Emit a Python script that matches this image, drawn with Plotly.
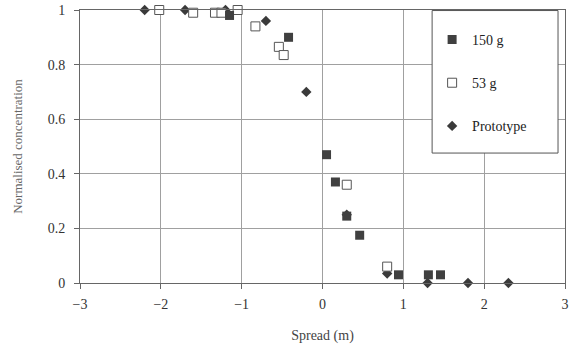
import plotly.graph_objects as go

# Data
g150_x = [-1.15, -0.42, 0.05, 0.16, 0.30, 0.46, 0.94, 1.31, 1.46]
g150_y = [0.98, 0.90, 0.47, 0.37, 0.245, 0.175, 0.03, 0.03, 0.03]

g53_x = [-2.02, -1.60, -1.33, -1.25, -1.05, -0.83, -0.54, -0.48, 0.30, 0.80]
g53_y = [1.00, 0.99, 0.99, 0.99, 1.00, 0.94, 0.865, 0.835, 0.36, 0.06]

proto_x = [-2.2, -1.7, -1.2, -0.7, -0.2, 0.3, 0.8, 1.3, 1.8, 2.3]
proto_y = [1.00, 1.00, 1.00, 0.96, 0.70, 0.25, 0.035, 0.0, 0.0, 0.0]

x_ticks = [-3, -2, -1, 0, 1, 2, 3]
y_ticks = [0, 0.2, 0.4, 0.6, 0.8, 1]
y_tick_text = ["0", "0.2", "0.4", "0.6", "0.8", "1"]

FONT = "Times New Roman, Liberation Serif, serif"
dark = "#3a3a3a"

fig = go.Figure()
fig.add_trace(go.Scatter(
    x=proto_x, y=proto_y, mode="markers", name="Prototype", legendgroup="c", legendrank=3,
    marker=dict(symbol="diamond", size=8, color=dark, line=dict(width=0)),
    cliponaxis=False))
fig.add_trace(go.Scatter(
    x=g53_x, y=g53_y, mode="markers", name="53 g", legendgroup="b", legendrank=2,
    marker=dict(symbol="square", size=9, color="white", line=dict(width=1, color="#555")),
    cliponaxis=False))
fig.add_trace(go.Scatter(
    x=g150_x, y=g150_y, mode="markers", name="150 g", legendgroup="a", legendrank=1,
    marker=dict(symbol="square", size=9, color="#404040", line=dict(width=0)),
    cliponaxis=False))

# legend frame
fig.add_shape(type="rect", xref="paper", yref="paper",
              x0=0.726, x1=0.9856, y0=0.476, y1=0.998,
              line=dict(color="#555", width=1), fillcolor="white", layer="above")

fig.update_layout(
    width=578, height=353,
    margin=dict(l=80, r=13, t=10, b=70, autoexpand=False),
    paper_bgcolor="white", plot_bgcolor="white",
    font=dict(family=FONT, size=14, color="#333"),
    showlegend=True,
    legend=dict(
        x=0.726, y=0.949, xanchor="left", yanchor="top",
        bgcolor="rgba(0,0,0,0)", borderwidth=0,
        font=dict(family=FONT, size=14, color="#222"),
        tracegroupgap=22, traceorder="grouped",
    ),
)
fig.update_xaxes(
    range=[-3, 3], tickvals=x_ticks, showgrid=True, gridcolor="#a0a0a0", gridwidth=1,
    zeroline=False, showline=True, linecolor="#666", linewidth=1, mirror=True,
    ticks="outside", ticklen=5, tickcolor="#666", automargin=False, ticklabelstandoff=3,
    tickfont=dict(family=FONT, size=14, color="#333"),
    title=dict(text="Spread (m)", font=dict(family=FONT, size=14, color="#444"), standoff=19),
)
fig.update_yaxes(
    range=[0, 1], tickvals=y_ticks, ticktext=y_tick_text, showgrid=True, gridcolor="#a0a0a0",
    gridwidth=1, zeroline=False, showline=True, linecolor="#666", linewidth=1, mirror=True,
    ticks="outside", ticklen=5, tickcolor="#666", automargin=False, ticklabelstandoff=6,
    tickfont=dict(family=FONT, size=14, color="#333"),
    title=dict(text="Normalised concentration", font=dict(family=FONT, size=13, color="#666"), standoff=22),
)

fig.write_html("out.html", config={"displayModeBar": False},
               post_script="document.body.style.margin='0';")
